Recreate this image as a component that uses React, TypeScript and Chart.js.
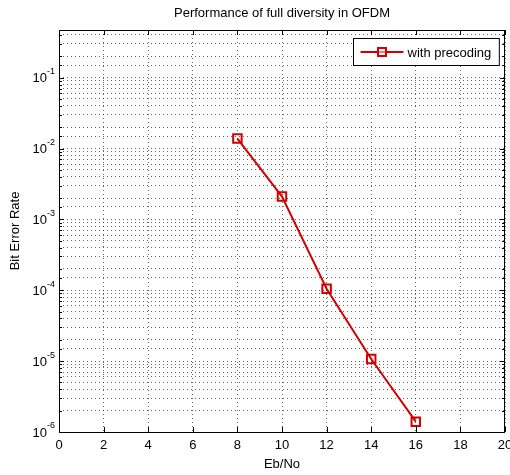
import React, { useEffect, useRef } from 'react';
import { Chart, registerables } from 'chart.js';

Chart.register(...registerables);

// ---- data ----
const ebNo = [8, 10, 12, 14, 16];
const ber = [1.38e-2, 2.1e-3, 1.05e-4, 1.07e-5, 1.4e-6];
const seriesLabel = 'with precoding';
const xMin = 0;
const xMax = 20;
const xStep = 2;
const yMin = 1e-6;
const yMax = 0.47;
const yDecades = [-6, -5, -4, -3, -2, -1];
const titleText = 'Performance of full diversity in OFDM';
const xLabel = 'Eb/No';
const yLabel = 'Bit Error Rate';

const FONT = '"Liberation Sans", Arial, sans-serif';
const RED = '#d40000';

const framePlugin = {
  id: 'matlabFrame',
  afterDatasetsDraw(chart: any) {
    const { ctx, chartArea } = chart;
    const { left, right, top, bottom } = chartArea;
    const xs = chart.scales.x;
    const ys = chart.scales.y;
    ctx.save();
    ctx.strokeStyle = '#000';
    ctx.lineWidth = 1;
    // frame
    ctx.strokeRect(Math.round(left) + 0.5, Math.round(top) + 0.5, Math.round(right - left) - 1, Math.round(bottom - top));
    // ticks
    ctx.beginPath();
    for (let v = xMin; v <= xMax; v += xStep) {
      const px = Math.round(xs.getPixelForValue(v)) + 0.5;
      ctx.moveTo(px, bottom);
      ctx.lineTo(px, bottom - 5);
      ctx.moveTo(px, top);
      ctx.lineTo(px, top + 5);
    }
    for (const t of ys.ticks) {
      const v = t.value;
      const lg = Math.log10(v);
      const major = Math.abs(lg - Math.round(lg)) < 1e-9;
      const len = major ? 5 : 3;
      const py = Math.round(ys.getPixelForValue(v)) + 0.5;
      ctx.moveTo(left, py);
      ctx.lineTo(left + len, py);
      ctx.moveTo(right, py);
      ctx.lineTo(right - len, py);
    }
    ctx.stroke();

    // y tick labels 10^n
    for (const d of yDecades) {
      const py = ys.getPixelForValue(Math.pow(10, d));
      const exp = String(d);
      ctx.font = `9px ${FONT}`;
      const ew = ctx.measureText(exp).width;
      ctx.font = `13px ${FONT}`;
      const tw = ctx.measureText('10').width;
      const xr = left - 4;
      ctx.fillStyle = '#000';
      ctx.textBaseline = 'middle';
      ctx.textAlign = 'left';
      ctx.fillText('10', xr - ew - tw, py + 1);
      ctx.font = `9px ${FONT}`;
      ctx.fillText(exp, xr - ew, py - 6);
    }

    // legend box
    ctx.font = `13px ${FONT}`;
    const textW = ctx.measureText(seriesLabel).width;
    const boxW = 54 + textW + 8;
    const boxH = 27;
    const bx = Math.round(right - 6 - boxW) + 0.5;
    const by = Math.round(top + 8) + 0.5;
    ctx.fillStyle = '#fff';
    ctx.fillRect(bx, by, boxW, boxH);
    ctx.strokeStyle = '#000';
    ctx.lineWidth = 1;
    ctx.strokeRect(bx, by, boxW, boxH);
    const cy = by + boxH / 2;
    ctx.strokeStyle = RED;
    ctx.lineWidth = 2;
    ctx.beginPath();
    ctx.moveTo(bx + 7, cy);
    ctx.lineTo(bx + 50, cy);
    ctx.stroke();
    ctx.fillStyle = '#fff';
    ctx.fillRect(bx + 28.5 - 4, cy - 4, 8, 8);
    ctx.strokeRect(bx + 28.5 - 4, cy - 4, 8, 8);
    ctx.beginPath();
    ctx.moveTo(bx + 24.5, cy);
    ctx.lineTo(bx + 32.5, cy);
    ctx.lineWidth = 1;
    ctx.stroke();
    ctx.fillStyle = '#000';
    ctx.textBaseline = 'middle';
    ctx.textAlign = 'left';
    ctx.fillText(seriesLabel, bx + 54, cy + 1);
    ctx.restore();
  },
};

export default function App() {
  const ref = useRef<HTMLCanvasElement | null>(null);
  useEffect(() => {
    if (!ref.current) return;
    const gridColor = 'rgba(0,0,0,0.6)';
    const chart = new Chart(ref.current, {
      type: 'line',
      data: {
        datasets: [
          {
            label: seriesLabel,
            data: ebNo.map((x, i) => ({ x, y: ber[i] })),
            borderColor: RED,
            borderWidth: 2,
            pointStyle: 'rect',
            pointRadius: 6,
            pointBorderWidth: 2,
            pointBorderColor: RED,
            pointBackgroundColor: 'rgba(255,255,255,0)',
            tension: 0,
            fill: false,
          },
        ],
      },
      options: {
        responsive: false,
        animation: false,
        events: [],
        layout: { autoPadding: false, padding: { left: 0, right: 5, top: 0, bottom: 0 } },
        plugins: {
          legend: { display: false },
          tooltip: { enabled: false },
          title: {
            display: true,
            fullSize: false,
            text: titleText,
            color: '#000',
            font: { family: FONT, size: 13, weight: 'normal', lineHeight: 1.2 },
            padding: { top: 6, bottom: 8.4 },
          },
        },
        scales: {
          x: {
            type: 'linear',
            min: xMin,
            max: xMax,
            ticks: { stepSize: xStep, color: '#000', font: { family: FONT, size: 13 }, padding: 6, maxRotation: 0 },
            grid: { color: gridColor, drawTicks: false, lineWidth: 1 },
            border: { display: false, dash: [1, 3] },
            title: { display: true, text: xLabel, color: '#000', font: { family: FONT, size: 13 }, padding: { top: 0, bottom: 3 } },
            afterFit: (s: any) => { s.height = 43; s.paddingRight = 0; s.paddingLeft = 0; },
          },
          y: {
            type: 'logarithmic',
            min: yMin,
            max: yMax,
            ticks: { display: false, autoSkip: false },
            grid: { color: gridColor, drawTicks: false, lineWidth: 1 },
            border: { display: false, dash: [1, 3] },
            title: { display: true, text: yLabel, color: '#000', font: { family: FONT, size: 13 }, padding: { top: 8, bottom: 0 } },
            afterFit: (s: any) => { s.width = 59; },
          },
        },
      },
      plugins: [framePlugin],
    } as any);
    return () => chart.destroy();
  }, []);
  return (
    <div style={{ position: 'absolute', left: 0, top: 0, width: 510, height: 475, background: '#fff' }}>
      <canvas ref={ref} width={510} height={475} />
    </div>
  );
}
